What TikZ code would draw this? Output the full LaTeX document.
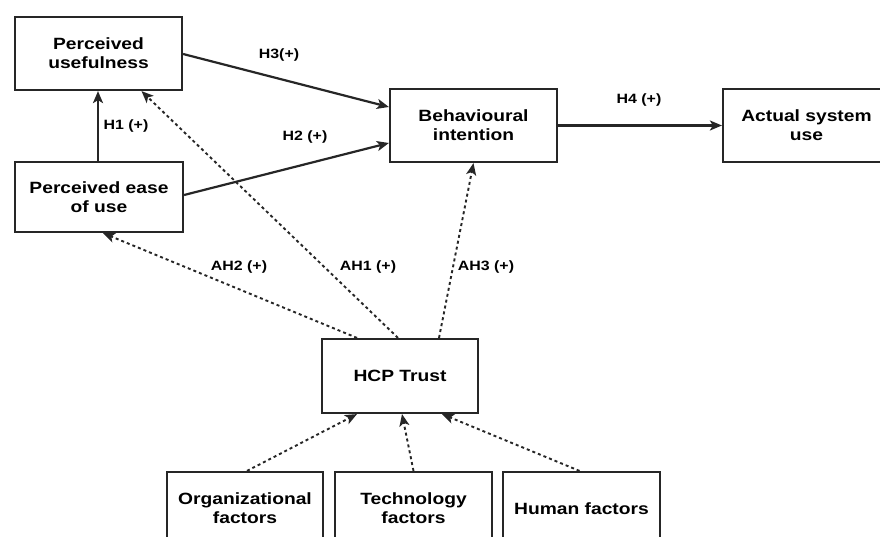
\documentclass[tikz,border=0pt]{standalone}
\usepackage{fontspec}
\setmainfont{Liberation Sans}[FakeStretch=1.18]
\usetikzlibrary{arrows.meta}
\begin{document}
\begin{tikzpicture}[x=1pt,y=-1pt,
  box/.style={draw=black!85,line width=2.2pt,rectangle,inner sep=0pt,align=center,
    font=\fontsize{16.3}{19}\selectfont\bfseries},
  lbl/.style={inner sep=0pt,font=\fontsize{13.5}{15}\selectfont\bfseries},
  arr/.style={line width=2.2pt,draw=black!85,-{Stealth[length=12pt,width=10pt,inset=3pt]}},
  darr/.style={arr,line width=1.9pt,dash pattern=on 3pt off 3pt}]
\clip (0,0) rectangle (880,537);
\fill[white] (0,0) rectangle (880,537);
\node[box,minimum width=167pt,minimum height=73pt] (pu) at (98.5,53.5) {Perceived\\usefulness};
\node[box,minimum width=168pt,minimum height=70pt] (peou) at (99,197) {Perceived ease\\of use};
\node[box,minimum width=167pt,minimum height=73pt] (bi) at (473.5,125.5) {Behavioural\\intention};
\node[box,minimum width=167pt,minimum height=73pt] (asu) at (806.5,125.5) {Actual system\\use};
\node[box,minimum width=156pt,minimum height=74pt] (hcp) at (400,376) {HCP Trust};
\node[box,minimum width=156pt,minimum height=73pt] (org) at (245,508.5) {Organizational\\factors};
\node[box,minimum width=157pt,minimum height=73pt] (tech) at (413.5,508.5) {Technology\\factors};
\node[box,minimum width=157pt,minimum height=73pt] (hum) at (581.5,508.5) {Human factors};

\draw[arr] ([xshift=-1pt]peou.north) -- ([xshift=-0.5pt]pu.south);
\draw[arr] ([yshift=-0.5pt]pu.east) -- ([yshift=18.5pt]bi.west);
\draw[arr] ([yshift=2pt]peou.east) -- ([yshift=-17.5pt]bi.west);
\draw[arr] (bi.east) -- (asu.west);

\draw[darr] ([xshift=-43pt]hcp.north) -- ([xshift=4pt]peou.south);
\draw[darr] ([xshift=-2pt]hcp.north) -- ([xshift=43pt]pu.south);
\draw[darr] ([xshift=39pt]hcp.north) -- (bi.south);
\draw[darr] ([xshift=2pt]org.north) -- ([xshift=-43pt]hcp.south);
\draw[darr] (tech.north) -- ([xshift=2pt]hcp.south);
\draw[darr] ([xshift=-2pt]hum.north) -- ([xshift=42pt]hcp.south);

\node[lbl] (l1) at (126,126) {H1 (+)};
\node[lbl] (l2) at (305,137) {H2 (+)};
\node[lbl] (l3) at (279,55) {H3(+)};
\node[lbl] (l4) at (639,100) {H4 (+)};
\node[lbl] (a2) at (239,267) {AH2 (+)};
\node[lbl] (a1) at (368,267) {AH1 (+)};
\node[lbl] (a3) at (486,267) {AH3 (+)};
\end{tikzpicture}
\end{document}
